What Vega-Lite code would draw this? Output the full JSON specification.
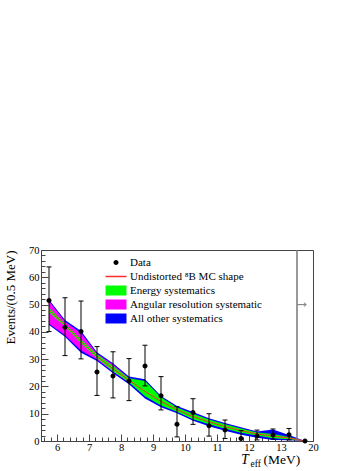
{
  "$schema": "https://vega.github.io/schema/vega-lite/v6.json",
  "width": 272,
  "height": 191,
  "autosize": "none",
  "padding": {"left": 41, "top": 250, "right": 51, "bottom": 30},
  "background": "white",
  "config": {
    "view": {"stroke": "#444", "strokeWidth": 1},
    "font": "Liberation Serif",
    "axis": {"labelFont": "Liberation Serif", "labelFontSize": 10.5, "labelColor": "black", "domainColor": "#444", "tickColor": "#444", "grid": false, "labelOverlap": false, "labelFlush": false},
    "legend": {"labelFont": "Liberation Serif", "labelFontSize": 11}
  },
  "datasets": {
    "bands": [
      {"x": 5.75, "mc": 48, "blo": 42.5, "bhi": 51.8, "mlo": 43, "mhi": 51.3, "glo": 47.2, "ghi": 48.8},
      {"x": 6.25, "mc": 42.5, "blo": 38.2, "bhi": 44.3, "mlo": 38.8, "mhi": 43.7, "glo": 42, "ghi": 43},
      {"x": 6.75, "mc": 36.5, "blo": 32.3, "bhi": 40.3, "mlo": 33.2, "mhi": 39.6, "glo": 35.8, "ghi": 37.2},
      {"x": 7.25, "mc": 31, "blo": 29.3, "bhi": 32.5, "mlo": 29.9, "mhi": 32, "glo": 30.3, "ghi": 31.8},
      {"x": 7.75, "mc": 26.5, "blo": 24.8, "bhi": 28.5, "mlo": 25.4, "mhi": 28, "glo": 25.6, "ghi": 27.5},
      {"x": 8.25, "mc": 22.3, "blo": 20.8, "bhi": 23.6, "mlo": 21.5, "mhi": 23, "glo": 21.5, "ghi": 23},
      {"x": 8.75, "mc": 18.2, "blo": 15.6, "bhi": 22.6, "mlo": 17.6, "mhi": 18.8, "glo": 16.4, "ghi": 22},
      {"x": 9.25, "mc": 14.5, "blo": 12.4, "bhi": 16.5, "mlo": 14, "mhi": 15, "glo": 13, "ghi": 16},
      {"x": 9.75, "mc": 11.5, "blo": 10.2, "bhi": 12.8, "mlo": 11.1, "mhi": 11.9, "glo": 10.7, "ghi": 12.3},
      {"x": 10.25, "mc": 9, "blo": 7.4, "bhi": 10.6, "mlo": 8.6, "mhi": 9.4, "glo": 8, "ghi": 10},
      {"x": 10.75, "mc": 7, "blo": 5.4, "bhi": 8.3, "mlo": 6.7, "mhi": 7.3, "glo": 6.1, "ghi": 7.9},
      {"x": 11.25, "mc": 5.3, "blo": 3.8, "bhi": 6.6, "mlo": 5, "mhi": 5.6, "glo": 4.5, "ghi": 6.1},
      {"x": 11.75, "mc": 3.8, "blo": 2.3, "bhi": 5, "mlo": 3.6, "mhi": 4, "glo": 3, "ghi": 4.6},
      {"x": 12.25, "mc": 2.6, "blo": 1.2, "bhi": 3.5, "mlo": 2.4, "mhi": 2.8, "glo": 2, "ghi": 3.1},
      {"x": 12.75, "mc": 1.8, "blo": 0.4, "bhi": 4.2, "mlo": 1.6, "mhi": 2, "glo": 1, "ghi": 2.6},
      {"x": 13.25, "mc": 1.1, "blo": 0.3, "bhi": 2.2, "mlo": 1, "mhi": 1.2, "glo": 0.6, "ghi": 1.5},
      {"x": 13.75, "mc": 0, "blo": 0, "bhi": 0, "mlo": 0, "mhi": 0, "glo": 0, "ghi": 0}
    ],
    "points": [
      {"x": 5.75, "y": 51.5, "lo": 40.1, "hi": 63.8},
      {"x": 6.25, "y": 41.7, "lo": 31.3, "hi": 52.5},
      {"x": 6.75, "y": 40.1, "lo": 30.1, "hi": 51.3},
      {"x": 7.25, "y": 25.3, "lo": 16.7, "hi": 34.6},
      {"x": 7.75, "y": 23.8, "lo": 15.8, "hi": 32.7},
      {"x": 8.25, "y": 22.0, "lo": 14.8, "hi": 30.2},
      {"x": 8.75, "y": 27.5, "lo": 20.2, "hi": 35.1},
      {"x": 9.25, "y": 16.6, "lo": 11.4, "hi": 23.6},
      {"x": 9.75, "y": 6.1, "lo": 1.5, "hi": 12.6},
      {"x": 10.25, "y": 10.4, "lo": 6.1, "hi": 15.5},
      {"x": 10.75, "y": 5.6, "lo": 1.8, "hi": 10.0},
      {"x": 11.25, "y": 4.0, "lo": 0.9, "hi": 7.7},
      {"x": 11.75, "y": 0.9, "lo": 0.0, "hi": 3.8},
      {"x": 12.25, "y": 1.8, "lo": 0.4, "hi": 4.0},
      {"x": 12.75, "y": 2.2, "lo": 0.7, "hi": 4.4},
      {"x": 13.25, "y": 2.3, "lo": 0.4, "hi": 4.6},
      {"x": 13.75, "y": 0, "lo": 0, "hi": 0}
    ],
    "one": [{"k": 1}],
    "ticks": [
      {"tx": 5.6, "ty": 0}, {"tx": 14, "ty": 70}
    ]
  },
  "resolve": {"axis": {"x": "independent", "y": "independent"}},
  "layer": [
    {
      "encoding": {
        "x": {"type": "quantitative", "scale": {"domain": [5.5, 14], "nice": false, "zero": false},
          "axis": {"title": null, "values": [6,7,8,9,10,11,12,13,14],
            "labelExpr": "datum.value == 14 ? '20' : datum.label",
            "tickSize": -7, "labelPadding": 8, "orient": "bottom"}},
        "y": {"type": "quantitative", "scale": {"domain": [0, 70], "nice": false},
          "axis": {"title": "Events/(0.5 MeV)", "titleFont": "Liberation Serif", "titleFontSize": 13, "titleFontWeight": "normal", "titleColor": "black", "titleAnchor": "end", "titlePadding": 11,
            "values": [0,10,20,30,40,50,60,70], "tickSize": -7, "labelPadding": 9, "orient": "left"}}
      },
      "layer": [
        {
          "data": {"name": "bands"},
          "mark": {"type": "area", "opacity": 1},
          "encoding": {
            "x": {"field": "x", "type": "quantitative"},
            "y": {"field": "blo", "type": "quantitative"},
            "y2": {"field": "bhi"},
            "color": {"datum": "All other systematics", "type": "nominal",
              "scale": {"domain": ["Data", "Undistorted ⁸B MC shape", "Energy systematics", "Angular resolution systematic", "All other systematics"],
                        "range": ["black", "#ff2a2a", "#00ff00", "#ff00ff", "#0000ff"]},
              "legend": {"title": null, "orient": "none", "legendX": 69.5, "legendY": 7, "symbolSize": 100, "rowPadding": 2, "labelOffset": 8.5, "padding": 0, "labelBaseline": "middle", "symbolStrokeWidth": 0, "symbolOpacity": 1}}
          }
        },
        {
          "data": {"name": "bands"},
          "mark": {"type": "area", "opacity": 1},
          "encoding": {
            "x": {"field": "x", "type": "quantitative"},
            "y": {"field": "mlo", "type": "quantitative"},
            "y2": {"field": "mhi"},
            "color": {"datum": "Angular resolution systematic", "type": "nominal"}
          }
        },
        {
          "data": {"name": "bands"},
          "mark": {"type": "area", "opacity": 1},
          "encoding": {
            "x": {"field": "x", "type": "quantitative"},
            "y": {"field": "glo", "type": "quantitative"},
            "y2": {"field": "ghi"},
            "color": {"datum": "Energy systematics", "type": "nominal"}
          }
        },
        {
          "data": {"name": "bands"},
          "mark": {"type": "line", "strokeWidth": 1},
          "encoding": {
            "x": {"field": "x", "type": "quantitative"},
            "y": {"field": "mc", "type": "quantitative"},
            "color": {"datum": "Undistorted ⁸B MC shape", "type": "nominal"}
          }
        },
        {
          "data": {"name": "one"},
          "mark": {"type": "rule", "color": "#777", "strokeWidth": 1.5},
          "encoding": {"x": {"datum": 13.5}, "y": {"datum": 0}, "y2": {"datum": 70}}
        },
        {
          "data": {"name": "one"},
          "mark": {"type": "rule", "color": "#888", "strokeWidth": 1.2},
          "encoding": {"x": {"datum": 13.5}, "x2": {"datum": 13.78}, "y": {"datum": 50}}
        },
        {
          "data": {"name": "one"},
          "mark": {"type": "point", "shape": "M-1,-1L0,0L-1,1", "filled": false, "color": "#777", "size": 16, "strokeWidth": 1.2},
          "encoding": {"x": {"datum": 13.78}, "y": {"datum": 50}}
        },
        {
          "data": {"name": "points"},
          "transform": [{"filter": "datum.hi > 0"}],
          "mark": {"type": "rule", "color": "black", "strokeWidth": 1},
          "encoding": {
            "x": {"field": "x", "type": "quantitative"},
            "y": {"field": "lo", "type": "quantitative"},
            "y2": {"field": "hi"}
          }
        },
        {
          "data": {"name": "points"},
          "transform": [{"filter": "datum.hi > 0"}],
          "mark": {"type": "tick", "orient": "horizontal", "color": "black", "size": 5, "thickness": 1, "opacity": 1},
          "encoding": {
            "x": {"field": "x", "type": "quantitative"},
            "y": {"field": "hi", "type": "quantitative"}
          }
        },
        {
          "data": {"name": "points"},
          "transform": [{"filter": "datum.lo > 0"}],
          "mark": {"type": "tick", "orient": "horizontal", "color": "black", "size": 5, "thickness": 1, "opacity": 1},
          "encoding": {
            "x": {"field": "x", "type": "quantitative"},
            "y": {"field": "lo", "type": "quantitative"}
          }
        },
        {
          "data": {"name": "points"},
          "mark": {"type": "point", "filled": true, "size": 100, "opacity": 1},
          "encoding": {
            "x": {"field": "x", "type": "quantitative"},
            "y": {"field": "y", "type": "quantitative"},
            "color": {"datum": "Data", "type": "nominal"},
            "shape": {"datum": "Data", "type": "nominal",
              "scale": {"domain": ["Data", "Undistorted ⁸B MC shape", "Energy systematics", "Angular resolution systematic", "All other systematics"],
                        "range": ["M-0.5,0A0.5,0.5 0 1,1 0.5,0A0.5,0.5 0 1,1 -0.5,0Z", "M-2.1,-0.15H2.1V0.15H-2.1Z", "M-2.1,-1H2.1V1H-2.1Z", "M-2.1,-1H2.1V1H-2.1Z", "M-2.1,-1H2.1V1H-2.1Z"]},
              "legend": {"title": null, "orient": "none", "legendX": 69.5, "legendY": 7, "symbolSize": 100, "rowPadding": 2, "labelOffset": 8.5, "padding": 0, "labelBaseline": "middle", "symbolStrokeWidth": 0, "symbolOpacity": 1}}
          }
        },
        {
          "data": {"name": "one"},
          "mark": {"type": "text", "text": "T", "font": "Liberation Serif", "fontStyle": "italic", "fontSize": 14, "align": "left", "baseline": "alphabetic", "dy": 22.5},
          "encoding": {"x": {"datum": 11.75}, "y": {"datum": 0}}
        },
        {
          "data": {"name": "one"},
          "mark": {"type": "text", "text": "eff", "font": "Liberation Serif", "fontSize": 9.5, "align": "left", "baseline": "alphabetic", "dy": 25.5},
          "encoding": {"x": {"datum": 12.05}, "y": {"datum": 0}}
        },
        {
          "data": {"name": "one"},
          "mark": {"type": "text", "text": "(MeV)", "font": "Liberation Serif", "fontSize": 13.5, "align": "left", "baseline": "alphabetic", "dy": 22.5},
          "encoding": {"x": {"datum": 12.45}, "y": {"datum": 0}}
        }
      ]
    },
    {
      "data": {"name": "ticks"},
      "mark": {"type": "point", "opacity": 0},
      "encoding": {
        "x": {"field": "tx", "type": "quantitative", "scale": {"domain": [5.5, 14], "nice": false, "zero": false},
          "axis": {"title": null, "orient": "bottom", "labels": false, "domain": false, "tickSize": -4,
            "values": [5.6,5.8,6.2,6.4,6.6,6.8,7.2,7.4,7.6,7.8,8.2,8.4,8.6,8.8,9.2,9.4,9.6,9.8,10.2,10.4,10.6,10.8,11.2,11.4,11.6,11.8,12.2,12.4,12.6,12.8,13.2,13.4]}},
        "y": {"field": "ty", "type": "quantitative", "scale": {"domain": [0, 70], "nice": false},
          "axis": {"title": null, "orient": "left", "labels": false, "domain": false, "tickSize": -4,
            "values": [2,4,6,8,12,14,16,18,22,24,26,28,32,34,36,38,42,44,46,48,52,54,56,58,62,64,66,68]}}
      }
    }
  ]
}
